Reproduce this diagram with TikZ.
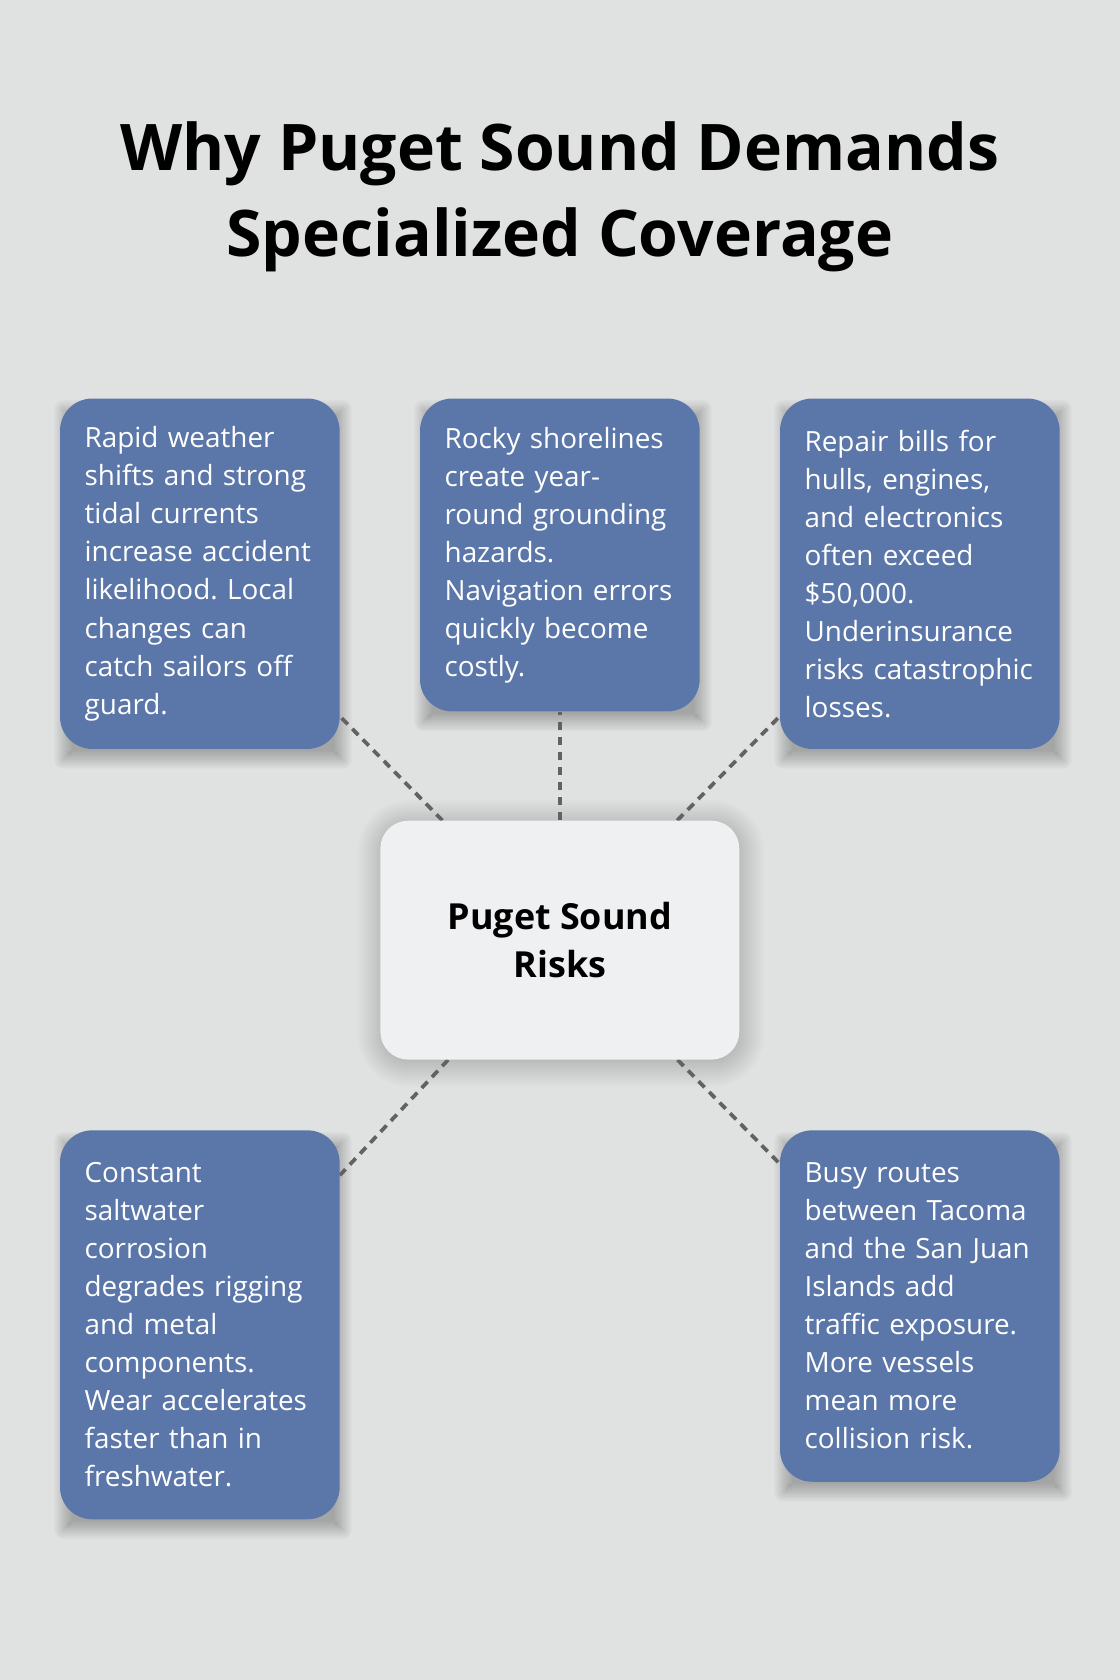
\documentclass[tikz,border=0pt]{standalone}
\usepackage{fontspec}
\setmainfont{Open Sans}
\frenchspacing
\usetikzlibrary{positioning,backgrounds}
\definecolor{pageGray}{HTML}{E0E2E1}
\definecolor{riskBlue}{HTML}{5B76A8}
\definecolor{hubWhite}{HTML}{EEF0F2}
\definecolor{linkGray}{HTML}{626262}

\begin{document}
\begin{tikzpicture}[x=1pt,y=1pt,
    risk/.style={rectangle, rounded corners=30pt, fill=riskBlue, text=white,
      align=left, text width=215pt, minimum width=261pt, inner xsep=23pt,
      font=\fontsize{26}{35.5}\selectfont},
    hub/.style={rectangle, rounded corners=26pt, fill=hubWhite, align=center,
      minimum width=335pt, minimum height=223pt,
      font=\bfseries\fontsize{33.5}{45}\selectfont},
    haze/.style={fill=black, opacity=0.032},
    link/.style={draw=linkGray, line width=3.5pt, dash pattern=on 8pt off 6pt}]
  \node[align=center, font=\bfseries\fontsize{60}{80}\selectfont] (title) at (522.5,1384)
    {Why Puget Sound Demands\\Specialized Coverage};
  \node[hub] (hub) at (522.5,690.5) {Puget Sound\\Risks};
  % top row
  \node[risk, minimum height=327pt] (weather) at (186.5,1032.5)
    {Rapid weather\\shifts and strong\\tidal currents\\increase accident\\likelihood. Local\\changes can\\catch sailors off\\guard.};
  \node[risk, minimum height=292pt] (rocks) at (522.5,1050)
    {Rocky shorelines\\create year-\\round grounding\\hazards.\\Navigation errors\\quickly become\\costly.};
  \node[risk, minimum height=327pt] (repair) at (858.5,1032.5)
    {Repair bills for\\hulls, engines,\\and electronics\\often exceed\\\$50,000.\\Underinsurance\\risks catastrophic\\losses.};
  % bottom row
  \node[risk, minimum height=363pt] (salt) at (186.5,331.5)
    {Constant\\saltwater\\corrosion\\degrades rigging\\and metal\\components.\\Wear accelerates\\faster than in\\freshwater.};
  \node[risk, minimum height=328pt] (traffic) at (858.5,349)
    {Busy routes\\between Tacoma\\and the San Juan\\Islands add\\traffic exposure.\\More vessels\\mean more\\collision risk.};
  \begin{scope}[on background layer]
    \fill[pageGray] (0,0) rectangle (1045,1568);
    % soft shadows
    \foreach \n in {weather,rocks,repair,salt,traffic}
      \foreach \s [evaluate=\s as \r using 30+\s] in {-8,-6,...,8}
        \fill[haze, rounded corners=\r pt] ([shift={(3-\s,-10-\s)}]\n.south west)
          rectangle ([shift={(3+\s,-10+\s)}]\n.north east);
    \foreach \s [evaluate=\s as \r using 26+\s] in {-8,-6,...,22}
      \fill[haze, opacity=0.012, rounded corners=\r pt] ([shift={(1-\s,-3-\s)}]hub.south west)
        rectangle ([shift={(1+\s,-3+\s)}]hub.north east);
    \draw[link] (hub) -- (weather);
    \draw[link] (hub) -- (rocks);
    \draw[link] (hub) -- (repair);
    \draw[link] (hub) -- (salt);
    \draw[link] (hub) -- (traffic);
  \end{scope}
\end{tikzpicture}
\end{document}
